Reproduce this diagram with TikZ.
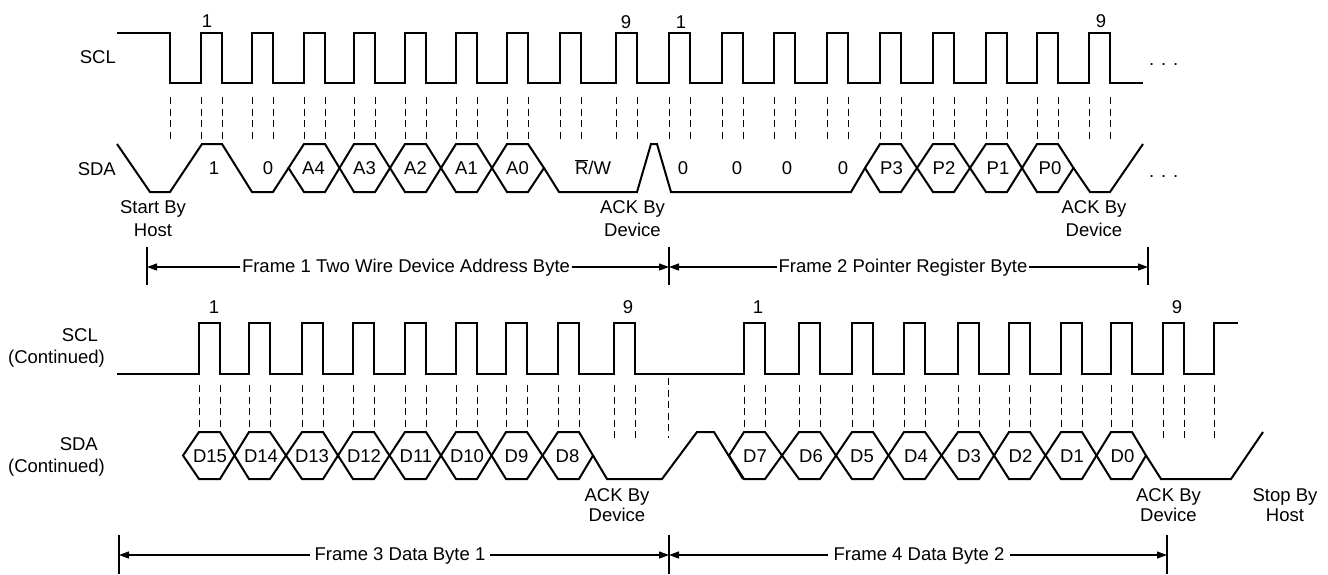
\documentclass[tikz,border=0pt]{standalone}
\usepackage{fontspec}
\setmainfont{Liberation Sans}
\usetikzlibrary{arrows.meta}
\newcommand\lbf{\fontsize{18.5}{22}\selectfont}
\begin{document}
\begin{tikzpicture}[x=1pt,y=-1pt,
  sig/.style={line width=2pt, line join=miter},
  guide/.style={line width=1pt, dash pattern=on 7pt off 4.5pt},
  lbl/.style={font=\lbf, inner sep=0pt},
  barline/.style={line width=1.5pt},
  dim/.style={line width=1.2pt, -{Triangle[length=10pt,width=7pt]}},
]
\useasboundingbox (0,0) rectangle (1328,574);

% ================= TOP HALF =================
% SCL
\draw[sig] (117,33) -- (170,33) -- (170,83)
  foreach \r in {201,252,304,354,405,456,507,560,616,669,722,774,827,880,933,986,1037,1089}
  { -- (\r,83) -- (\r,33) -- (\r+21,33) -- (\r+21,83) } -- (1143,83);
% guides
\draw[guide] (170,97) -- (170,142);
\foreach \r in {201,252,304,354,405,456,507,560,616,669,722,774,827,880,933,986,1037,1089}
  { \draw[guide] (\r,97) -- (\r,142); \draw[guide] (\r+21,97) -- (\r+21,142); }
% SDA
\draw[sig] (117,144) -- (150,192) -- (170,192) -- (202,144) -- (222,144) -- (252,192) -- (273,192) -- (288.5,168);
\foreach \xl/\r/\xr in {288.5/304/339.5, 339.5/354/390, 390/405/441, 441/456/492, 492/507/544,
                        865/880/917, 917/933/970, 970/986/1022, 1022/1037/1073.5}
  { \draw[sig] (\xl,168) -- (\r,144) -- (\r+21,144) -- (\xr,168) -- (\r+21,192) -- (\r,192) -- cycle; }
\draw[sig] (544,168) -- (559,192) -- (637,192) -- (651,144) -- (657,144) -- (671,192) -- (851,192) -- (865,168);
\draw[sig] (1073.5,168) -- (1090,192) -- (1110,192) -- (1143,144);

% labels
\node[lbl, anchor=base east] (sclA) at (116,63) {SCL};
\node[lbl, anchor=base east] (sdaA) at (116,175) {SDA};
\node[lbl, anchor=base] (n1a) at (207,27) {1};
\node[lbl, anchor=base] (n9a) at (626,28) {9};
\node[lbl, anchor=base] (n1b) at (681,28) {1};
\node[lbl, anchor=base] (n9b) at (1101,27) {9};
\node[lbl, anchor=base] (b1) at (214,174.5) {1};
\node[lbl, anchor=base] (b0) at (268,174.5) {0};
\node[lbl, anchor=base] (a4) at (313.5,174.5) {A4};
\node[lbl, anchor=base] (a3) at (364.5,174.5) {A3};
\node[lbl, anchor=base] (a2) at (415.5,174.5) {A2};
\node[lbl, anchor=base] (a1) at (466.5,174.5) {A1};
\node[lbl, anchor=base] (a0) at (517.5,174.5) {A0};
\node[lbl, anchor=base] (rw) at (593,174.5) {$\overline{\mbox{R}}$/W};
\node[lbl, anchor=base] (z1) at (683,174.5) {0};
\node[lbl, anchor=base] (z2) at (737,174.5) {0};
\node[lbl, anchor=base] (z3) at (787,174.5) {0};
\node[lbl, anchor=base] (z4) at (843,174.5) {0};
\node[lbl, anchor=base] (p3) at (891.5,174.5) {P3};
\node[lbl, anchor=base] (p2) at (944,174.5) {P2};
\node[lbl, anchor=base] (p1) at (998,174.5) {P1};
\node[lbl, anchor=base] (p0) at (1050,174.5) {P0};
\node[lbl, anchor=base west] (dotsA) at (1149,65.5) {. . .};
\node[lbl, anchor=base west] (dotsB) at (1149,177) {. . .};
\node[lbl, anchor=base] (st1) at (153,213.5) {Start By};
\node[lbl, anchor=base] (st2) at (153,236.5) {Host};
\node[lbl, anchor=base] (ack1a) at (632.5,213.5) {ACK By};
\node[lbl, anchor=base] (ack1b) at (632.5,236.5) {Device};
\node[lbl, anchor=base] (ack2a) at (1094,213.5) {ACK By};
\node[lbl, anchor=base] (ack2b) at (1094,236.5) {Device};

% frame arrows (top)
\draw[barline] (147,247) -- (147,285);
\draw[barline] (669,247) -- (669,285);
\draw[barline] (1148,247) -- (1148,285);
\coordinate (t1) at (147,267);
\coordinate (t2) at (669,267);
\coordinate (t3) at (1148,267);
\node[lbl, anchor=base, inner xsep=1.5pt] (fr1) at (406,272) {Frame 1 Two Wire Device Address Byte};
\node[lbl, anchor=base, inner xsep=1.5pt] (fr2) at (903,272) {Frame 2 Pointer Register Byte};
\draw[dim] (fr1.west |- t1) -- (t1);
\draw[dim] (fr1.east |- t2) -- (t2);
\draw[dim] (fr2.west |- t2) -- (t2);
\draw[dim] (fr2.east |- t3) -- (t3);

% ================= BOTTOM HALF =================
% SCL
\draw[sig] (117,374)
  foreach \r in {199,249,302,353,405,456,506,558,614,744,799,852,904,958,1009,1061,1111,1163}
  { -- (\r,374) -- (\r,323) -- (\r+21,323) -- (\r+21,374) } -- (1214,374) -- (1214,323) -- (1238,323);
% guides
\foreach \r in {199,249,302,353,405,456,506,558,744,799,852,904,958,1009,1061,1111}
  { \draw[guide] (\r,385) -- (\r,431); \draw[guide] (\r+21,385) -- (\r+21,431); }
\foreach \r in {614,1163}
  { \draw[guide] (\r,385) -- (\r,438); \draw[guide] (\r+21,385) -- (\r+21,438); }
\draw[guide] (668,378) -- (668,438);
\draw[guide] (1214,385) -- (1214,438);
% SDA
\foreach \xl/\r/\xr in {183/199/234.5, 234.5/249/286, 286/302/338, 338/353/389.5, 389.5/405/441,
                        441/456/491.5, 491.5/506/542.5, 542.5/558/593,
                        729/744/782, 782/799/836, 836/852/888.5, 888.5/904/941.5, 941.5/958/994,
                        994/1009/1045.5, 1045.5/1061/1096.5, 1096.5/1111/1146}
  { \draw[sig] (\xl,455.5) -- (\r,432) -- (\r+21,432) -- (\xr,455.5) -- (\r+21,479) -- (\r,479) -- cycle; }
\draw[sig] (593,455.5) -- (607,479) -- (662,479) -- (697,432) -- (714,432) -- (743,479);
\draw[sig] (1146,455.5) -- (1161,479) -- (1231,479) -- (1263,432);

% labels
\node[lbl, anchor=base east] (sclB) at (98,341) {SCL};
\node[lbl, anchor=base east] (sclBc) at (105,363) {(Continued)};
\node[lbl, anchor=base east] (sdaB) at (98,450) {SDA};
\node[lbl, anchor=base east] (sdaBc) at (105,472) {(Continued)};
\node[lbl, anchor=base] (m1a) at (214,313) {1};
\node[lbl, anchor=base] (m9a) at (628,313) {9};
\node[lbl, anchor=base] (m1b) at (758,313) {1};
\node[lbl, anchor=base] (m9b) at (1177,313) {9};
\foreach \x/\t in {210/D15, 261/D14, 312/D13, 364/D12, 416/D11, 467/D10, 516.5/D9, 567.5/D8,
                   755/D7, 811/D6, 862/D5, 916/D4, 969/D3, 1020.5/D2, 1072/D1, 1122.5/D0}
  { \node[lbl, anchor=base] (d\t) at (\x,462) {\t}; }
\node[lbl, anchor=base] (ack3a) at (617,501.5) {ACK By};
\node[lbl, anchor=base] (ack3b) at (617,521.5) {Device};
\node[lbl, anchor=base] (ack4a) at (1168.5,501.5) {ACK By};
\node[lbl, anchor=base] (ack4b) at (1168.5,521.5) {Device};
\node[lbl, anchor=base] (sp1) at (1285,501.5) {Stop By};
\node[lbl, anchor=base] (sp2) at (1285,521.5) {Host};

% frame arrows (bottom)
\draw[barline] (119,535) -- (119,574);
\draw[barline] (669,535) -- (669,574);
\draw[barline] (1167,535) -- (1167,574);
\coordinate (u1) at (119,555);
\coordinate (u2) at (669,555);
\coordinate (u3) at (1167,555);
\node[lbl, anchor=base, inner xsep=4pt] (fr3) at (400,560.3) {Frame 3 Data Byte 1};
\node[lbl, anchor=base, inner xsep=5pt] (fr4) at (919,560.3) {Frame 4 Data Byte 2};
\draw[dim] (fr3.west |- u1) -- (u1);
\draw[dim] (fr3.east |- u2) -- (u2);
\draw[dim] (fr4.west |- u2) -- (u2);
\draw[dim] (fr4.east |- u3) -- (u3);
\end{tikzpicture}
\end{document}
